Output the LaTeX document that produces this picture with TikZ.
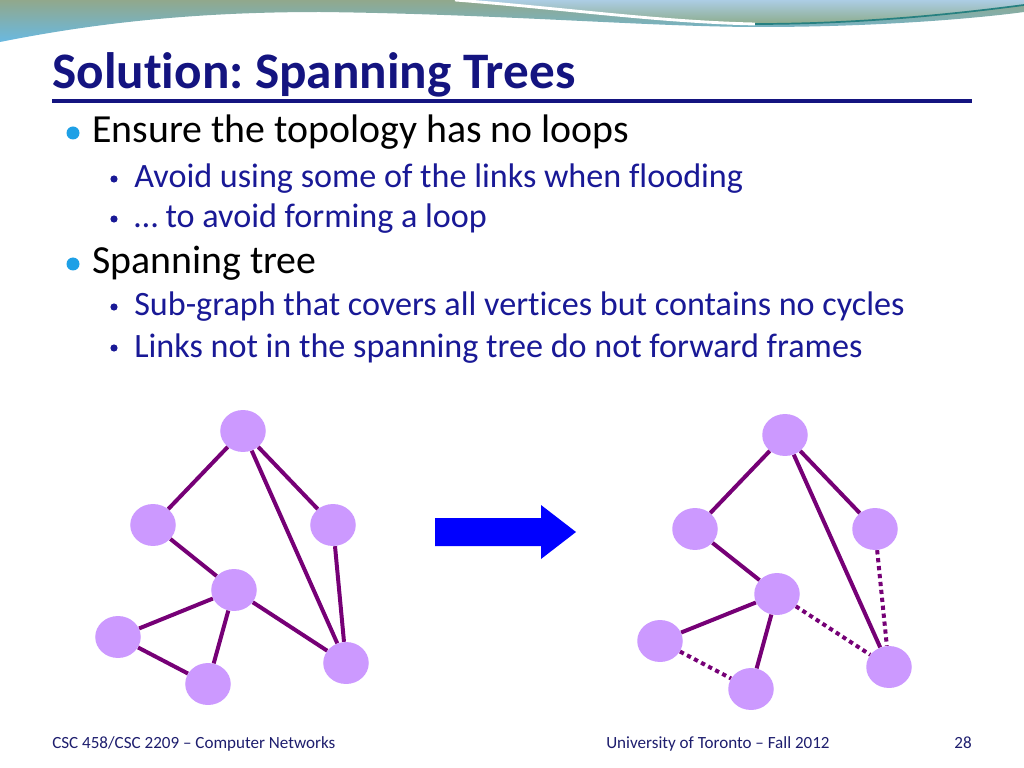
\documentclass[tikz,border=0pt]{standalone}
\usepackage{fontspec}
\setmainfont{Carlito}[Ligatures=NoCommon]
\usepackage{tikz}
\usepackage{xcolor}
\usetikzlibrary{shapes.geometric}
\frenchspacing

\definecolor{titleblue}{RGB}{20,20,128}
\definecolor{subblue}{RGB}{25,25,150}
\definecolor{footblue}{RGB}{30,30,110}
\definecolor{bulletblue}{RGB}{30,160,230}
\definecolor{vfill}{RGB}{204,153,255}
\definecolor{linkpurple}{RGB}{118,0,118}
\definecolor{bandtop}{RGB}{145,168,140}
\definecolor{bandbot}{RGB}{105,185,225}
\definecolor{capetop}{RGB}{172,205,228}
\definecolor{capebot}{RGB}{140,172,140}

\tikzset{
  vertex/.style={ellipse, fill=vfill, inner sep=0pt, minimum width=32pt, minimum height=29.5pt},
  link/.style={draw=linkpurple, line width=2.8pt},
  offlink/.style={link, dash pattern=on 3pt off 2.6pt},
  txt/.style={anchor=base west, inner sep=0pt},
  lvlone/.style={txt, font=\fontsize{28}{32}\selectfont},
  lvltwo/.style={txt, text=subblue, font=\fontsize{24}{28}\selectfont},
  foot/.style={txt, text=footblue, font=\fontsize{12}{14}\selectfont}
}

\begin{document}
\begin{tikzpicture}[x=0.703125pt, y=-0.703125pt]
                \useasboundingbox (0, 0) rectangle (1024, 768);
                \fill[white] (0, 0) rectangle (1024, 768);

                \shade[top color=bandtop, bottom color=bandbot]
                (0, 0) -- (0, 42) .. controls (100, 22) and (200, 12) .. (320, 12)
                .. controls (500, 14) and (650, 27) .. (760, 27)
                .. controls (880, 27) and (980, 18) .. (1024, 12) -- (1024, 0) -- cycle;
                \shade[top color=capetop, bottom color=capebot]
                (455, 0) .. controls (560, 8) and (660, 22) .. (755, 24)
                .. controls (870, 24) and (970, 12) .. (1024, 5) -- (1024, 0) -- cycle;
                \draw[white, line width=2pt] (455, 0) .. controls (560, 8) and (660, 22) .. (755, 24);
                \draw[teal!70!gray, line width=1.2pt] (755, 24) .. controls (870, 24) and (970, 12) .. (1024, 5);

                \node[txt, text=titleblue, font=\bfseries\fontsize{36}{42}\selectfont] (title) at (52, 89) {Solution: Spanning Trees};
                \coordinate (rule_l) at (52, 101);
                \coordinate (rule_r) at (972, 101);
                \draw[titleblue, line width=2.2pt] (rule_l) -- (rule_r);

                \fill[bulletblue] (73, 133) circle (6.5);
                \node[lvlone] (b_one) at (92, 143) {Ensure the topology has no loops};
                \fill[subblue] (114, 179) circle (3.6);
                \node[lvltwo] (b_onea) at (134, 188) {Avoid using some of the links when flooding};
                \fill[subblue] (114, 219) circle (3.6);
                \node[lvltwo] (b_oneb) at (134, 228) {\dots{} to avoid forming a loop};
                \fill[bulletblue] (73, 264) circle (6.5);
                \node[lvlone] (b_two) at (92, 274) {Spanning tree};
                \fill[subblue] (114, 307) circle (3.6);
                \node[lvltwo] (b_twoa) at (134, 316) {Sub-graph that covers all vertices but contains no cycles};
                \fill[subblue] (114, 348) circle (3.6);
                \node[lvltwo] (b_twob) at (134, 357) {Links not in the spanning tree do not forward frames};

                \node[vertex] (l_a) at (243, 431) {};
                \node[vertex] (l_b) at (153, 525) {};
                \node[vertex] (l_c) at (333, 525) {};
                \node[vertex] (l_d) at (234, 590) {};
                \node[vertex] (l_e) at (118, 637) {};
                \node[vertex] (l_f) at (208, 684) {};
                \node[vertex] (l_g) at (346, 663) {};

                \node[vertex] (r_a) at (785, 435) {};
                \node[vertex] (r_b) at (695, 529) {};
                \node[vertex] (r_c) at (875, 529) {};
                \node[vertex] (r_d) at (777, 594) {};
                \node[vertex] (r_e) at (660, 641) {};
                \node[vertex] (r_f) at (751, 689) {};
                \node[vertex] (r_g) at (889, 667) {};

                \draw[link]
                (l_a) -- (l_b)
                (l_a) -- (l_c)
                (l_a) -- (l_g)
                (l_c) -- (l_g)
                (l_b) -- (l_d)
                (l_d) -- (l_e)
                (l_d) -- (l_f)
                (l_d) -- (l_g)
                (l_e) -- (l_f);

                \draw[link]
                (r_a) -- (r_b)
                (r_a) -- (r_c)
                (r_a) -- (r_g)
                (r_b) -- (r_d)
                (r_d) -- (r_e)
                (r_d) -- (r_f);
                \draw[offlink]
                (r_c) -- (r_g)
                (r_d) -- (r_g)
                (r_e) -- (r_f);

                \fill[blue] (435, 518) -- (541, 518) -- (541, 505) -- (576, 532)
                -- (541, 559) -- (541, 546) -- (435, 546) -- cycle;

                \node[foot] (f_course) at (52, 748) {CSC 458/CSC 2209 – Computer Networks};
                \node[foot] (f_school) at (606, 748) {University of Toronto – Fall 2012};
                \node[foot, anchor=base east] (f_page) at (972, 748) {28};
\end{tikzpicture}
\end{document}
